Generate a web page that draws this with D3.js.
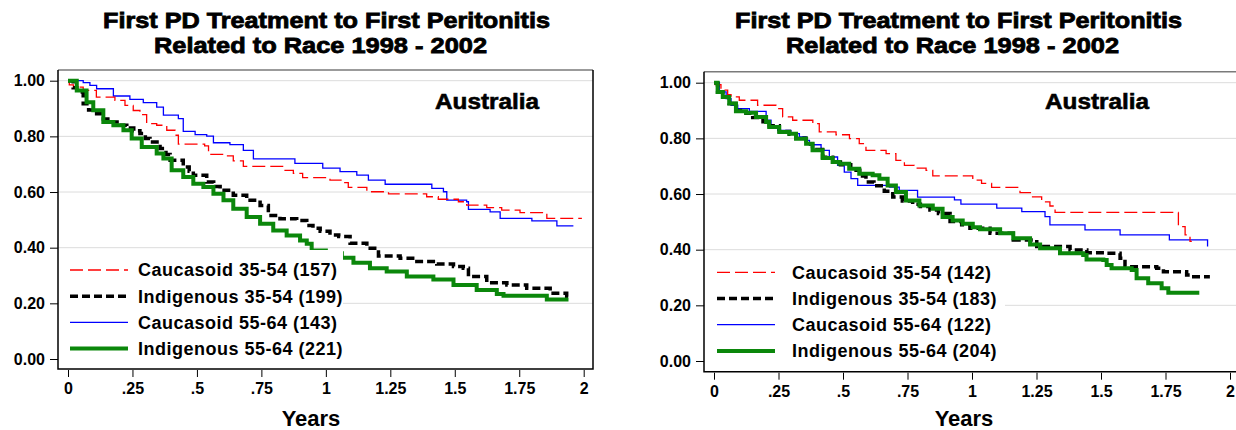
<!DOCTYPE html>
<meta charset="utf-8">
<style>
body{margin:0;background:#fff;}
text{font-family:"Liberation Sans",Arial,sans-serif;font-weight:bold;fill:#000;}
.title{font-size:21.5px;stroke:#000;stroke-width:0.8px;}
.place{font-size:22px;stroke:#000;stroke-width:0.6px;}
.tick text{font-size:16px;font-family:"Liberation Sans",Arial,sans-serif;font-weight:bold;}
.tick line{stroke:#000;}
.legend text{font-size:18px;letter-spacing:0.5px;}
.grid line{stroke:#dcdcdc;stroke-width:1px;}
.xlab{font-size:22px;text-anchor:middle;}
</style>
<body>
<script src="https://d3js.org/d3.v7.min.js"></script>
<script>

var titleLines=["First PD Treatment to First Peritonitis","Related to Race 1998 - 2002"];
var place="Australia";
var xTicks=[0,0.25,0.5,0.75,1,1.25,1.5,1.75,2];
var xTickLabels=["0",".25",".5",".75","1","1.25","1.5","1.75","2"];
var yTicks=[0,0.2,0.4,0.6,0.8,1];
var yTickLabels=["0.00","0.20","0.40","0.60","0.80","1.00"];
var groups=["Caucasoid 35-54","Indigenous 35-54","Caucasoid 55-64","Indigenous 55-64"];
var countsLeft=[157,199,143,221];
var countsRight=[142,183,122,204];

// survival steps [years, proportion], left panel
var leftCauc3554=[[0,1],[.005,.985],[.021,.977],[.059,.965],[.11,.941],[.182,.929],[.221,.911],[.253,.893],[.279,.878],[.305,.846],[.344,.840],[.383,.822],[.415,.804],[.428,.772],[.530,.766],[.545,.735],[.603,.730],[.641,.712],[.680,.692],[.835,.678],[.874,.667],[.910,.652],[1.016,.643],[1.068,.634],[1.087,.617],[1.159,.601],[1.243,.593],[1.391,.583],[1.436,.574],[1.514,.565],[1.546,.553],[1.624,.544],[1.682,.535],[1.753,.526],[1.857,.505],[1.993,.505]];
var leftIndig3554=[[0,1],[.02,.975],[.034,.959],[.059,.917],[.08,.895],[.098,.881],[.13,.862],[.163,.852],[.2,.84],[.228,.830],[.255,.82],[.279,.810],[.30,.792],[.318,.780],[.357,.756],[.38,.735],[.396,.714],[.447,.690],[.47,.675],[.486,.660],[.538,.636],[.565,.62],[.590,.606],[.641,.588],[.693,.570],[.745,.552],[.777,.516],[.822,.504],[.887,.498],[.926,.480],[.95,.47],[.978,.459],[1.016,.446],[1.05,.44],[1.094,.416],[1.159,.398],[1.204,.370],[1.288,.362],[1.353,.350],[1.430,.341],[1.495,.332],[1.533,.326],[1.553,.296],[1.624,.274],[1.702,.266],[1.779,.254],[1.870,.236],[1.934,.224],[1.946,.224]];
var leftCauc5564=[[0,1],[.059,.993],[.085,.983],[.111,.971],[.176,.945],[.240,.933],[.292,.921],[.344,.905],[.370,.876],[.428,.864],[.447,.818],[.493,.806],[.538,.801],[.564,.777],[.628,.770],[.680,.750],[.719,.719],[.88,.703],[.988,.686],[1.055,.673],[1.12,.661],[1.165,.643],[1.230,.628],[1.411,.613],[1.456,.601],[1.469,.571],[1.546,.565],[1.553,.538],[1.637,.529],[1.676,.505],[1.799,.496],[1.896,.478],[1.960,.478]];
var leftIndig5564=[[0,1],[.034,.965],[.072,.923],[.098,.894],[.137,.852],[.176,.840],[.215,.822],[.247,.792],[.286,.762],[.344,.738],[.370,.720],[.402,.678],[.447,.654],[.486,.630],[.525,.618],[.564,.594],[.603,.570],[.641,.540],[.693,.510],[.745,.486],[.796,.462],[.848,.444],[.900,.426],[.926,.414],[.945,.390],[1.0,.38],[1.062,.364],[1.107,.346],[1.171,.326],[1.236,.314],[1.314,.296],[1.417,.286],[1.495,.266],[1.585,.248],[1.663,.234],[1.689,.227],[1.844,.227],[1.857,.214],[1.941,.214]];

// right panel
var rightCauc3554=[[0,1],[.005,.993],[.027,.973],[.053,.957],[.066,.949],[.098,.937],[.169,.919],[.240,.907],[.266,.877],[.305,.865],[.383,.853],[.408,.823],[.473,.813],[.525,.799],[.563,.781],[.589,.757],[.667,.745],[.705,.721],[.738,.703],[.776,.693],[.822,.685],[.848,.665],[1.003,.650],[1.037,.638],[1.076,.624],[1.186,.605],[1.231,.590],[1.270,.572],[1.302,.557],[1.322,.534],[1.800,.483],[1.826,.453],[1.845,.43],[1.852,.43]];
var rightIndig3554=[[0,1],[.014,.967],[.034,.949],[.059,.925],[.085,.9],[.124,.89],[.15,.875],[.19,.86],[.214,.845],[.253,.825],[.292,.815],[.318,.80],[.357,.78],[.382,.76],[.421,.732],[.46,.715],[.49,.705],[.53,.685],[.565,.665],[.589,.643],[.62,.63],[.66,.61],[.693,.589],[.73,.575],[.77,.563],[.80,.555],[.837,.543],[.87,.53],[.915,.501],[.96,.49],[.992,.477],[1.07,.459],[1.16,.435],[1.251,.411],[1.38,.399],[1.445,.389],[1.522,.387],[1.574,.369],[1.593,.339],[1.716,.333],[1.742,.321],[1.832,.309],[1.845,.303],[1.922,.303]];
var rightCauc5564=[[0,1],[.021,.967],[.047,.943],[.066,.919],[.092,.907],[.137,.897],[.202,.865],[.221,.841],[.247,.829],[.298,.817],[.331,.805],[.357,.793],[.370,.777],[.415,.757],[.447,.733],[.479,.703],[.505,.679],[.531,.655],[.557,.631],[.680,.625],[.718,.613],[.789,.589],[.932,.579],[.957,.564],[1.096,.549],[1.193,.537],[1.283,.519],[1.302,.489],[1.438,.471],[1.574,.453],[1.765,.435],[1.913,.411]];
var rightIndig5564=[[0,1],[.014,.967],[.034,.949],[.059,.925],[.085,.897],[.124,.892],[.163,.877],[.202,.859],[.214,.841],[.253,.823],[.292,.817],[.318,.799],[.357,.781],[.382,.757],[.421,.729],[.460,.715],[.486,.709],[.524,.691],[.563,.673],[.615,.667],[.641,.655],[.673,.631],[.705,.607],[.744,.577],[.796,.559],[.848,.547],[.886,.517],[.925,.505],[.964,.493],[1.003,.481],[1.031,.473],[1.109,.459],[1.160,.441],[1.225,.419],[1.264,.405],[1.341,.387],[1.431,.381],[1.444,.365],[1.509,.363],[1.522,.345],[1.541,.333],[1.619,.327],[1.638,.297],[1.683,.279],[1.735,.261],[1.761,.245],[1.881,.245]];

var styles=[
	{color:"#ff0000",width:1.3,dash:"13,5"},
	{color:"#000000",width:3.5,dash:"8,4"},
	{color:"#0000ff",width:1.3,dash:null},
	{color:"#0b870b",width:4,dash:null}
];

var svg=d3.select("body").append("svg").attr("width",1236).attr("height",430);

var panels=[
	{id:"L",tx:0,left:58,right:593,top:70,bottom:369,x0:68,x2:583.7,y0:359,y1:80.7,
	 legX:70,legY:270,legTop:250,legRight:343,ausX:435,yearsX:311,
	 series:[leftCauc3554,leftIndig3554,leftCauc5564,leftIndig5564],counts:countsLeft},
	{id:"R",tx:632,left:704,right:1240,top:71.7,bottom:371.7,x0:714,x2:1230,y0:361,y1:82.7,
	 legX:717,legY:272.3,legTop:253,legRight:1005,ausX:1045,yearsX:964,
	 series:[rightCauc3554,rightIndig3554,rightCauc5564,rightIndig5564],counts:countsRight}
];

// title line start x and stretched length (left panel)
var titleX=[103,154];
var titleW=[447,333];

panels.forEach(function(p){
	var x=d3.scaleLinear().domain([0,2]).range([p.x0,p.x2]);
	var y=d3.scaleLinear().domain([0,1]).range([p.y0,p.y1]);
	var g=svg.append("g");

	g.selectAll(".title").data(titleLines).enter().append("text")
		.attr("class","title")
		.attr("x",(d,i)=>titleX[i]+p.tx)
		.attr("y",(d,i)=>28.3+i*25)
		.attr("textLength",(d,i)=>titleW[i])
		.attr("lengthAdjust","spacingAndGlyphs")
		.text(d=>d);

	// grid
	g.append("g").attr("class","grid").selectAll("line")
		.data(yTicks.filter(d=>d>0)).enter().append("line")
		.attr("x1",p.left).attr("x2",p.right)
		.attr("y1",d=>y(d)).attr("y2",d=>y(d));

	var clipId="clip"+p.id;
	svg.append("clipPath").attr("id",clipId).append("rect")
		.attr("x",p.left).attr("y",p.top).attr("width",p.right-p.left).attr("height",p.bottom-p.top);

	var line=d3.line().x(d=>x(d[0])).y(d=>y(d[1])).curve(d3.curveStepAfter);

	var curves=g.append("g").attr("clip-path","url(#"+clipId+")");
	// draw order: blue, red, black, green
	[2,0,1,3].forEach(function(i){
		curves.append("path")
			.datum(p.series[i])
			.attr("d",line)
			.attr("fill","none")
			.attr("stroke",styles[i].color)
			.attr("stroke-width",styles[i].width)
			.attr("stroke-dasharray",styles[i].dash);
	});

	// legend
	var leg=g.append("g").attr("class","legend");
	leg.append("rect")
		.attr("x",p.left+1).attr("y",p.legTop)
		.attr("width",p.legRight-p.left-1).attr("height",p.bottom-p.legTop-1)
		.attr("fill","#fff");
	var rows=leg.selectAll(".row").data(groups).enter().append("g")
		.attr("transform",(d,i)=>"translate(0,"+(p.legY+i*26.2)+")");
	rows.append("line")
		.attr("x1",p.legX).attr("x2",p.legX+58)
		.attr("stroke",(d,i)=>styles[i].color)
		.attr("stroke-width",(d,i)=>styles[i].width)
		.attr("stroke-dasharray",(d,i)=>styles[i].dash);
	rows.append("text")
		.attr("x",p.legX+(p.id=="L"?68:75))
		.attr("dy","0.36em")
		.text((d,i)=>d+" ("+p.counts[i]+")");

	g.append("text").attr("class","place")
		.attr("x",p.ausX).attr("y",109)
		.attr("textLength",104).attr("lengthAdjust","spacingAndGlyphs")
		.text(place);

	// frame
	g.append("line").attr("x1",p.left).attr("x2",p.right).attr("y1",p.top).attr("y2",p.top)
		.attr("stroke","#7a7a7a").attr("stroke-width",1.5);
	g.append("path")
		.attr("d","M"+p.left+","+p.top+"V"+p.bottom+"H"+p.right+"V"+p.top)
		.attr("fill","none").attr("stroke","#000").attr("stroke-width",1.5);

	var yAxis=g.append("g").attr("transform","translate("+p.left+",0)")
		.call(d3.axisLeft(y).tickValues(yTicks).tickSize(8).tickPadding(5)
			.tickFormat((d,i)=>yTickLabels[i]));
	yAxis.select(".domain").remove();

	var xAxis=g.append("g").attr("transform","translate(0,"+(p.bottom+1)+")")
		.call(d3.axisBottom(x).tickValues(xTicks).tickSize(7).tickPadding(6)
			.tickFormat((d,i)=>xTickLabels[i]));
	xAxis.select(".domain").remove();

	g.append("text").attr("class","xlab")
		.attr("x",p.yearsX).attr("y",426).text("Years");
});

</script>
</body>
</html>
